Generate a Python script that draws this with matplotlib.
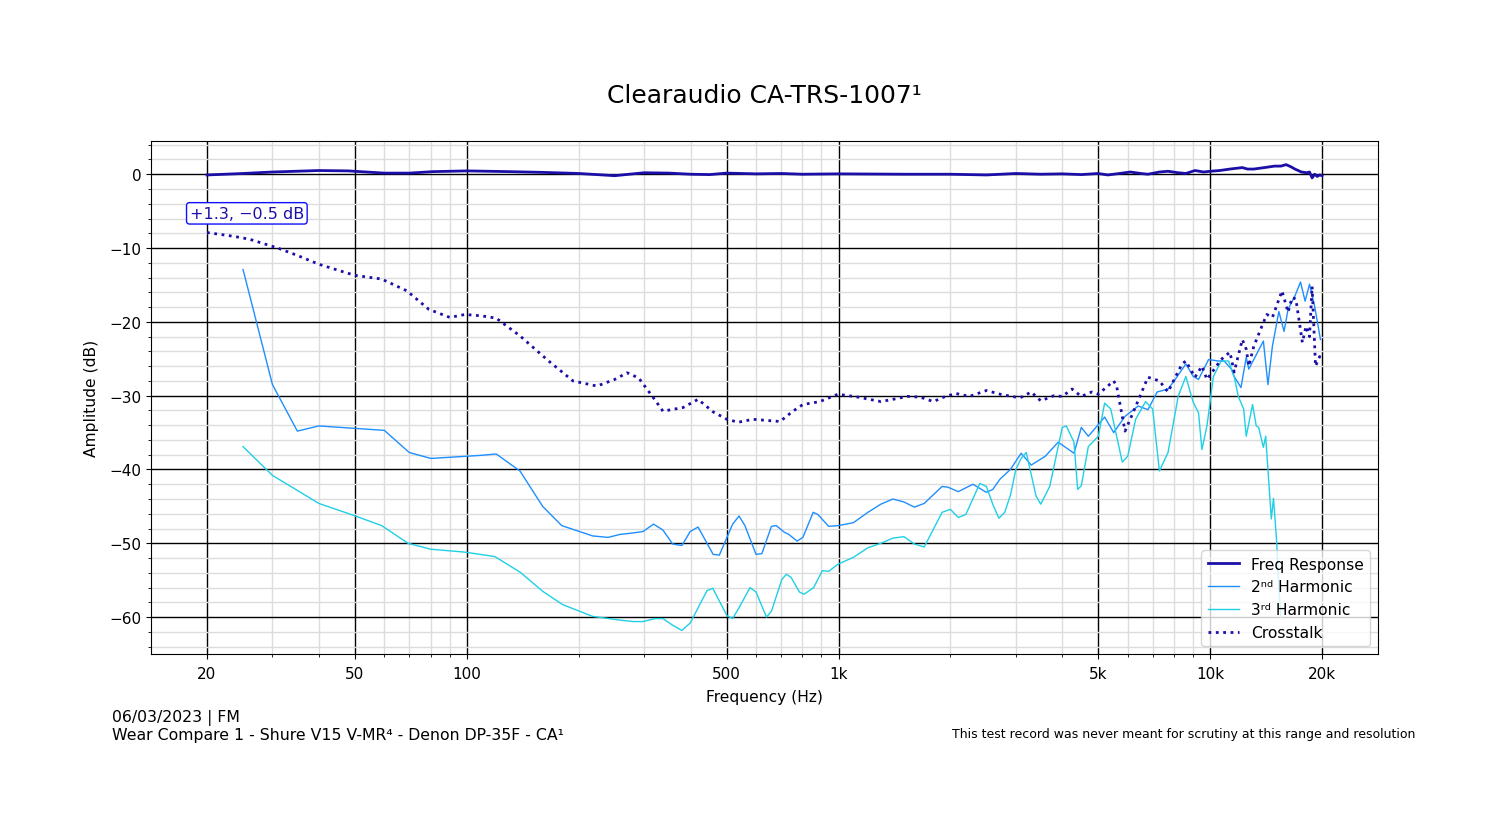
import matplotlib
matplotlib.use("Agg")
import matplotlib.pyplot as plt
import numpy as np

# 频响 (Freq Response)
fr_f = [20, 25, 30, 40, 48, 60, 70, 81, 100, 130, 160, 200, 250, 300, 350, 400, 450, 500,
        600, 700, 800, 1000, 1500, 2000, 2500, 3000, 3500, 4000, 4500, 5000, 5300, 5700,
        6100, 6500, 6800, 7300, 7700, 8200, 8600, 9100, 9600, 10000, 10600, 11300, 12200,
        12600, 13100, 14000, 14900, 15500, 16000, 16500, 16900, 17600, 18200, 18500, 18800,
        19100, 19400, 19700, 20000]
fr_db = [-0.1, 0.1, 0.3, 0.5, 0.45, 0.15, 0.15, 0.35, 0.45, 0.35, 0.25, 0.1, -0.2, 0.2, 0.15,
         0.0, -0.05, 0.15, 0.05, 0.1, 0.0, 0.05, 0.0, 0.0, -0.1, 0.1, 0.0, 0.05, -0.05, 0.1,
         -0.1, 0.1, 0.3, 0.1, 0.0, 0.3, 0.4, 0.2, 0.1, 0.5, 0.3, 0.4, 0.5, 0.7, 0.9, 0.7, 0.7,
         0.9, 1.1, 1.1, 1.3, 1.0, 0.7, 0.3, 0.2, 0.3, -0.5, 0.0, -0.3, -0.1, -0.2]

# 串扰 (Crosstalk)
ct_f = [20, 23.5, 26, 31, 35, 40, 45, 50, 59, 69, 79, 90, 99, 110, 120, 139, 166, 193, 224,
        250, 270, 290, 320, 337, 382, 419, 460, 501, 537, 589, 696, 754, 802, 891, 997, 1130,
        1300, 1400, 1530, 1660, 1800, 1940, 2070, 2250, 2500, 2720, 3077, 3300, 3500, 3800,
        4000, 4250, 4500, 4800, 5000, 5500, 5600, 5900, 6200, 6800, 7300, 7700, 8000, 8400,
        8600, 9100, 9500, 9800, 10700, 11300, 11600, 12200, 12500, 12700, 13100, 13900, 14200,
        14700, 15600, 16200, 16600, 17000, 17700, 18100, 18500, 18800, 19200, 19700, 20000]
ct_db = [-7.9, -8.4, -8.8, -10.0, -11.0, -12.2, -13.0, -13.7, -14.2, -15.8, -18.3, -19.4,
         -19.0, -19.2, -19.5, -21.9, -25.3, -28.0, -28.7, -27.8, -26.9, -27.6, -30.5, -32.1,
         -31.6, -30.5, -32.2, -33.2, -33.6, -33.2, -33.5, -32.1, -31.2, -30.8, -29.8, -30.2,
         -30.8, -30.5, -30.1, -30.2, -30.8, -30.1, -29.7, -30.1, -29.3, -29.8, -30.3, -29.5,
         -30.7, -30.0, -30.1, -29.1, -30.1, -29.5, -29.8, -28.0, -28.7, -34.8, -32.3, -27.5,
         -28.0, -29.5, -27.8, -25.7, -25.3, -27.5, -26.0, -27.8, -25.1, -24.1, -26.8, -22.4,
         -23.7, -26.0, -23.3, -20.1, -19.0, -19.4, -15.8, -18.7, -16.7, -16.9, -22.8, -20.6,
         -22.0, -15.2, -26.0, -24.7, -25.0]

# 二次谐波 (2nd Harmonic)
h2_f = [25, 30, 35, 40, 60, 70, 80, 108, 120, 139, 160, 180, 218, 240, 258, 280, 298, 318,
        337, 358, 379, 399, 419, 460, 478, 519, 540, 560, 600, 622, 660, 680, 715, 735, 774,
        802, 855, 880, 941, 999, 1097, 1200, 1300, 1400, 1500, 1600, 1700, 1900, 1970, 2100,
        2300, 2500, 2600, 2720, 2900, 3100, 3300, 3600, 3900, 4300, 4500, 4700, 5200, 5500,
        5900, 6400, 6800, 7200, 7700, 8000, 8600, 9000, 9300, 9900, 10500, 10900, 11400,
        11600, 12100, 12500, 12700, 13100, 13900, 14300, 14700, 15300, 15800, 16200, 16900,
        17500, 18000, 18500, 19100, 19800]
h2_db = [-12.9, -28.5, -34.8, -34.1, -34.7, -37.7, -38.5, -38.1, -37.9, -40.2, -45.0, -47.6,
         -49.0, -49.2, -48.8, -48.6, -48.4, -47.4, -48.2, -50.1, -50.3, -48.4, -47.8, -51.5,
         -51.6, -47.4, -46.3, -47.6, -51.5, -51.4, -47.7, -47.6, -48.5, -48.8, -49.7, -49.2,
         -45.8, -46.1, -47.7, -47.6, -47.2, -45.8, -44.7, -44.0, -44.4, -45.1, -44.6, -42.3,
         -42.4, -43.0, -42.0, -43.1, -42.7, -41.3, -40.0, -37.8, -39.4, -38.2, -36.3, -37.8,
         -34.3, -35.5, -32.9, -35.0, -32.8, -31.4, -31.9, -29.5, -29.1, -28.0, -25.7, -27.4,
         -27.8, -25.1, -25.3, -25.3, -26.4, -27.4, -28.9, -24.8, -26.4, -25.1, -22.6, -28.5,
         -23.3, -18.6, -21.3, -18.3, -16.5, -14.6, -17.2, -14.9, -17.9, -22.4]

# 三次谐波 (3rd Harmonic)
h3_f = [25, 30, 40, 49.5, 59, 69.5, 80, 99, 119, 139, 160, 181, 218, 258, 280, 298, 321, 337,
        358, 379, 399, 443, 459, 501, 519, 543, 578, 600, 640, 660, 704, 724, 745, 785, 808,
        857, 905, 941, 999, 1097, 1200, 1300, 1400, 1500, 1600, 1700, 1800, 1900, 2000, 2100,
        2200, 2400, 2500, 2600, 2700, 2800, 2900, 3000, 3100, 3200, 3400, 3500, 3700, 4000,
        4100, 4300, 4400, 4500, 4700, 5000, 5200, 5400, 5800, 6000, 6300, 6700, 7000, 7300,
        7700, 8200, 8600, 9000, 9300, 9500, 9800, 10200, 10700, 11200, 11600, 11900, 12300,
        12500, 13000, 13300, 13500, 13900, 14100, 14300, 14600, 14800, 15100, 15300, 15500]
h3_db = [-36.9, -40.8, -44.6, -46.2, -47.6, -50.0, -50.8, -51.2, -51.8, -53.9, -56.5, -58.3,
         -59.9, -60.4, -60.6, -60.6, -60.2, -60.2, -61.1, -61.8, -60.8, -56.4, -56.1, -59.8,
         -60.2, -58.5, -56.0, -56.6, -60.0, -59.2, -54.9, -54.2, -54.6, -56.6, -56.9, -56.0,
         -53.7, -53.8, -52.8, -51.9, -50.6, -50.0, -49.3, -49.1, -50.1, -50.5, -48.1, -45.8,
         -45.4, -46.5, -46.1, -41.9, -42.3, -44.7, -46.6, -45.8, -43.5, -40.0, -38.5, -37.7,
         -43.6, -44.7, -42.3, -34.3, -34.1, -36.3, -42.7, -42.2, -36.9, -35.5, -31.0, -31.8,
         -39.0, -38.2, -33.2, -30.8, -31.8, -40.2, -37.7, -30.1, -27.4, -30.9, -32.3, -37.3,
         -34.1, -27.4, -25.3, -25.3, -27.4, -30.1, -31.8, -35.5, -31.2, -34.1, -34.3, -37.0,
         -35.5, -40.0, -46.7, -43.9, -49.9, -56.0, -60.0]

x_major = [20, 50, 100, 500, 1000, 5000, 10000, 20000]
x_labels = ['20', '50', '100', '500', '1k', '5k', '10k', '20k']
x_minor = [30, 40, 60, 70, 80, 90, 200, 300, 400, 600, 700, 800, 900,
           2000, 3000, 4000, 6000, 7000, 8000, 9000]

fig = plt.figure(figsize=(15, 8.28), dpi=100)
ax = fig.add_axes([0.1007, 0.2089, 0.818, 0.6196])

ax.plot(fr_f, fr_db, color='#1c0fa8', lw=2, label='Freq Response')
ax.plot(h2_f, h2_db, color='#1e8fff', lw=1, label='2ⁿᵈ Harmonic')
ax.plot(h3_f, h3_db, color='#1ed0e6', lw=1, label='3ʳᵈ Harmonic')
ax.plot(ct_f, ct_db, color='#1c0fa8', lw=2, ls=':', label='Crosstalk')

ax.set_xscale('log')
ax.set_xlim(20 / np.sqrt(2), 20000 * np.sqrt(2))
ax.set_ylim(-65, 4.5)
ax.set_xticks(x_major, x_labels)
ax.set_xticks(x_minor, minor=True)
ax.set_yticks(np.arange(-60, 1, 10))
ax.set_yticks(np.arange(-64, 5, 2), minor=True)
ax.tick_params(labelsize=11)
ax.tick_params(axis='x', pad=5)

ax.set_axisbelow(True)
ax.grid(which='major', color='black', lw=1)
ax.grid(which='minor', color='#dcdcdc', lw=1)

ax.set_xlabel('Frequency (Hz)', fontsize=11.2, labelpad=6)
ax.set_ylabel('Amplitude (dB)', fontsize=11.2, labelpad=7)
ax.set_title('Clearaudio CA-TRS-1007¹', fontsize=18, pad=28)

ax.text(25.6, -5.3, '+1.3, −0.5 dB', color='#1c0fa8', fontsize=11.5, ha='center', va='center',
        bbox=dict(boxstyle='round,pad=0.2', fc='white', ec='#1010ff'))

ax.legend(loc='lower right', fontsize=11.2)

fig.text(112 / 1500, 1 - 743 / 828,
         '06/03/2023 | FM\nWear Compare 1 - Shure V15 V-MR⁴ - Denon DP-35F - CA¹',
         fontsize=11.3, ha='left', va='bottom', linespacing=1.15)
fig.text(1415 / 1500, 1 - 735 / 828,
         'This test record was never meant for scrutiny at this range and resolution',
         fontsize=9, ha='right', va='center')

fig.savefig('out.png', dpi=100)
